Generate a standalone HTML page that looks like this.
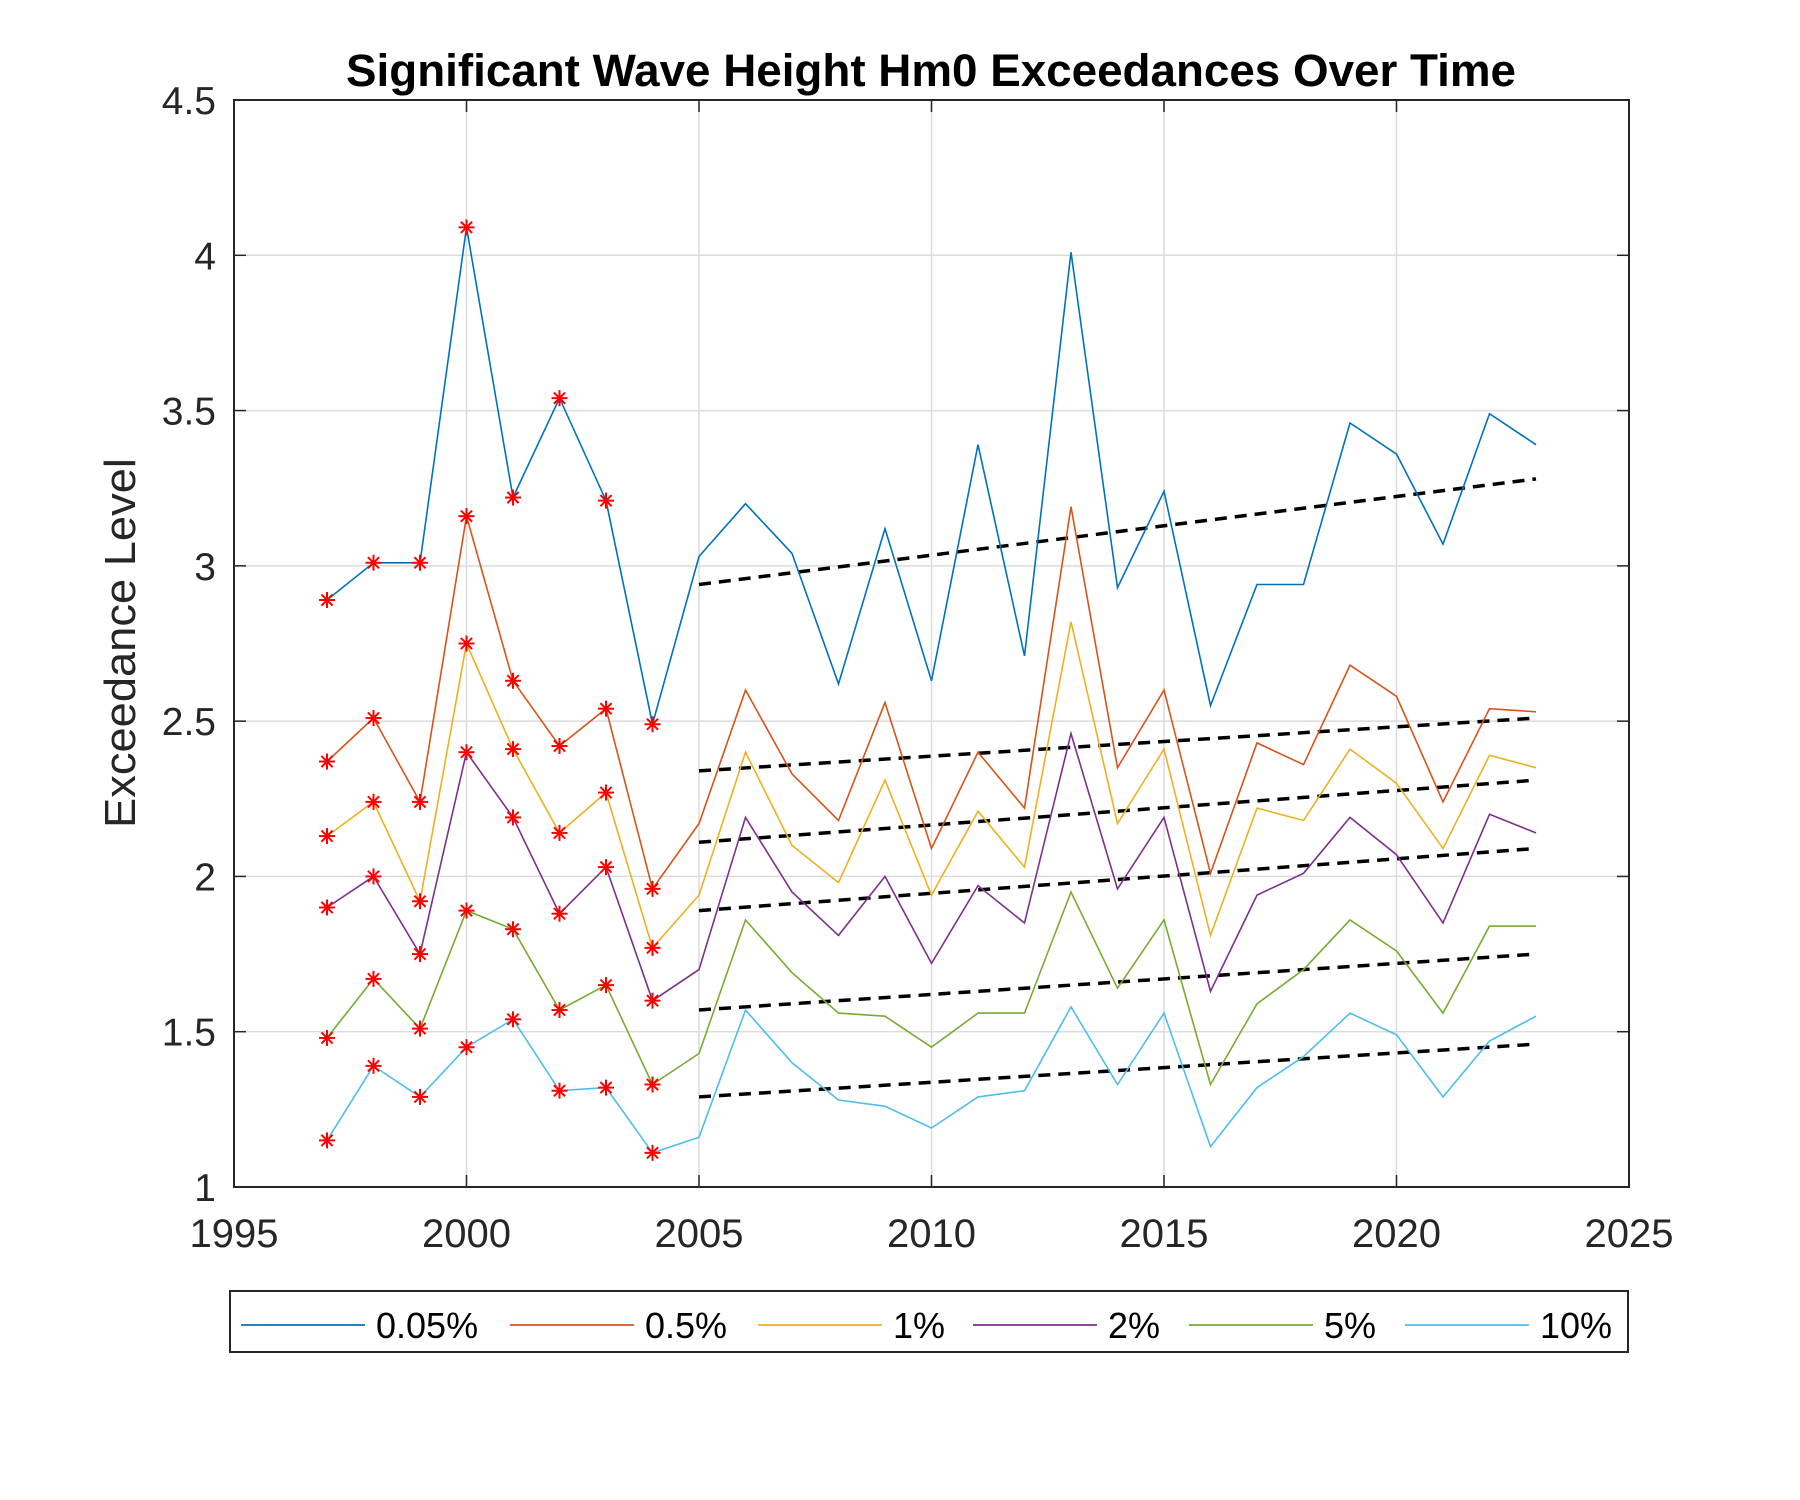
<!DOCTYPE html>
<html><head><meta charset="utf-8"><style>
body{margin:0;background:#fff;}
svg{display:block;font-family:"Liberation Sans",Arial,sans-serif;}
</style></head><body>
<svg id="chart" width="1800" height="1500" viewBox="0 0 1800 1500">
<rect width="1800" height="1500" fill="#fff"/>
<g id="grid"></g><g id="trends"></g><g id="series"></g><g id="markers"></g><g id="axes"></g>
<text x="931" y="86" text-anchor="middle" font-size="45" font-weight="bold" fill="#000" textLength="1170" lengthAdjust="spacingAndGlyphs">Significant Wave Height Hm0 Exceedances Over Time</text>
<text transform="translate(135,643) rotate(-90)" text-anchor="middle" font-size="44" fill="#262626" textLength="370" lengthAdjust="spacingAndGlyphs">Exceedance Level</text>
<g id="legend"></g>
</svg>
<script>
const years = [1997,1998,1999,2000,2001,2002,2003,2004,2005,2006,2007,2008,2009,2010,2011,2012,2013,2014,2015,2016,2017,2018,2019,2020,2021,2022,2023];
const seriesNames = ["0.05%","0.5%","1%","2%","5%","10%"];
const s005 = [2.89,3.01,3.01,4.09,3.22,3.54,3.21,2.49,3.03,3.20,3.04,2.62,3.12,2.63,3.39,2.71,4.01,2.93,3.24,2.55,2.94,2.94,3.46,3.36,3.07,3.49,3.39];
const s05 = [2.37,2.51,2.24,3.16,2.63,2.42,2.54,1.96,2.17,2.60,2.33,2.18,2.56,2.09,2.40,2.22,3.19,2.35,2.60,2.01,2.43,2.36,2.68,2.58,2.24,2.54,2.53];
const s1 = [2.13,2.24,1.92,2.75,2.41,2.14,2.27,1.77,1.94,2.40,2.10,1.98,2.31,1.94,2.21,2.03,2.82,2.17,2.41,1.81,2.22,2.18,2.41,2.30,2.09,2.39,2.35];
const s2 = [1.90,2.00,1.75,2.40,2.19,1.88,2.03,1.60,1.70,2.19,1.95,1.81,2.00,1.72,1.97,1.85,2.46,1.96,2.19,1.63,1.94,2.01,2.19,2.07,1.85,2.20,2.14];
const s5 = [1.48,1.67,1.51,1.89,1.83,1.57,1.65,1.33,1.43,1.86,1.69,1.56,1.55,1.45,1.56,1.56,1.95,1.64,1.86,1.33,1.59,1.70,1.86,1.76,1.56,1.84,1.84];
const s10 = [1.15,1.39,1.29,1.45,1.54,1.31,1.32,1.11,1.16,1.57,1.40,1.28,1.26,1.19,1.29,1.31,1.58,1.33,1.56,1.13,1.32,1.42,1.56,1.49,1.29,1.47,1.55];
const markerYears = [1997,1998,1999,2000,2001,2002,2003,2004];
const trendYears = [2005,2023];
const trendStart = [2.94,2.34,2.11,1.89,1.57,1.29];
const trendEnd = [3.28,2.51,2.31,2.09,1.75,1.46];
const xTicks = [1995,2000,2005,2010,2015,2020,2025];
const yTicks = [1,1.5,2,2.5,3,3.5,4,4.5];
const yTickLabels = ["1","1.5","2","2.5","3","3.5","4","4.5"];

const allSeries = [s005,s05,s1,s2,s5,s10];
const colors = ["#0072BD","#D95319","#EDB120","#7E2F8E","#77AC30","#4DBEEE"];
const L=234,R=1629,T=100,B=1187;
const xMin=1995,xMax=2025,yMin=1,yMax=4.5;
const X=v=>L+(v-xMin)/(xMax-xMin)*(R-L);
const Y=v=>B-(v-yMin)/(yMax-yMin)*(B-T);
const NS="http://www.w3.org/2000/svg";
function mk(tag,attrs,parent){const e=document.createElementNS(NS,tag);for(const k in attrs)e.setAttribute(k,attrs[k]);parent.appendChild(e);return e;}
const grid=document.getElementById('grid'),axes=document.getElementById('axes');
xTicks.forEach((t,i)=>{
  const l=mk('line',{x1:X(t),x2:X(t),y1:T,y2:B,stroke:'#dcdcdc','stroke-width':1.5},grid);
  
  
  const tk=mk('line',{x1:X(t),x2:X(t),y1:B,y2:B-12,stroke:'#262626','stroke-width':1.5},axes);
  
  
  const tk2=mk('line',{x1:X(t),x2:X(t),y1:T,y2:T+12,stroke:'#262626','stroke-width':1.5},axes);
  
  
  const tx=mk('text',{x:X(t),y:1247,'text-anchor':'middle','font-size':40,fill:'#262626'},axes);
  tx.textContent=String(t);
  
  
});
yTicks.forEach((t,i)=>{
  const l=mk('line',{x1:L,x2:R,y1:Y(t),y2:Y(t),stroke:'#dcdcdc','stroke-width':1.5},grid);
  
  
  const tk=mk('line',{x1:L,x2:L+12,y1:Y(t),y2:Y(t),stroke:'#262626','stroke-width':1.5},axes);
  
  
  const tk2=mk('line',{x1:R,x2:R-12,y1:Y(t),y2:Y(t),stroke:'#262626','stroke-width':1.5},axes);
  
  
  const tx=mk('text',{x:216,y:Y(t)+14,'text-anchor':'end','font-size':39,fill:'#262626'},axes);
  tx.textContent=yTickLabels[i];
  
  
});
const frame=mk('rect',{x:L,y:T,width:R-L,height:B-T,fill:'none',stroke:'#262626','stroke-width':2},axes);



const sg=document.getElementById('series'),mg=document.getElementById('markers'),tg=document.getElementById('trends');
allSeries.forEach((s,si)=>{
  const pts=s.map((v,i)=>X(years[i]).toFixed(1)+','+Y(v).toFixed(1)).join(' ');
  const p=mk('polyline',{points:pts,fill:'none',stroke:colors[si],'stroke-width':1.6},sg);
  
  
  markerYears.forEach(my=>{
    const i=years.indexOf(my);const cx=X(my),cy=Y(s[i]),r=8;
    const g=mk('g',{stroke:'#ff0000','stroke-width':2},mg);
    
    
    mk('line',{x1:cx-r,x2:cx+r,y1:cy,y2:cy},g);
    mk('line',{x1:cx,x2:cx,y1:cy-r,y2:cy+r},g);
    mk('line',{x1:cx-r*0.7,x2:cx+r*0.7,y1:cy-r*0.7,y2:cy+r*0.7},g);
    mk('line',{x1:cx-r*0.7,x2:cx+r*0.7,y1:cy+r*0.7,y2:cy-r*0.7},g);
  });
  const t=mk('line',{x1:X(trendYears[0]),x2:X(trendYears[1]),y1:Y(trendStart[si]),y2:Y(trendEnd[si]),stroke:'#000','stroke-width':3.5,'stroke-dasharray':'12 8'},tg);
  
  
});

const lg=document.getElementById('legend');
const lb=mk('rect',{x:230,y:1291,width:1398,height:61,fill:'#fff',stroke:'#262626','stroke-width':2},lg);


const lx=[241,510,758,973,1189,1405];
seriesNames.forEach((n,i)=>{
  const g=mk('g',{},lg);
  
  
  mk('line',{x1:lx[i],x2:lx[i]+124,y1:1325,y2:1325,stroke:colors[i],'stroke-width':1.8},g);
  const t=mk('text',{x:lx[i]+135,y:1338,'font-size':36,fill:'#000'},g);
  t.textContent=n;
});
</script>
</body></html>
